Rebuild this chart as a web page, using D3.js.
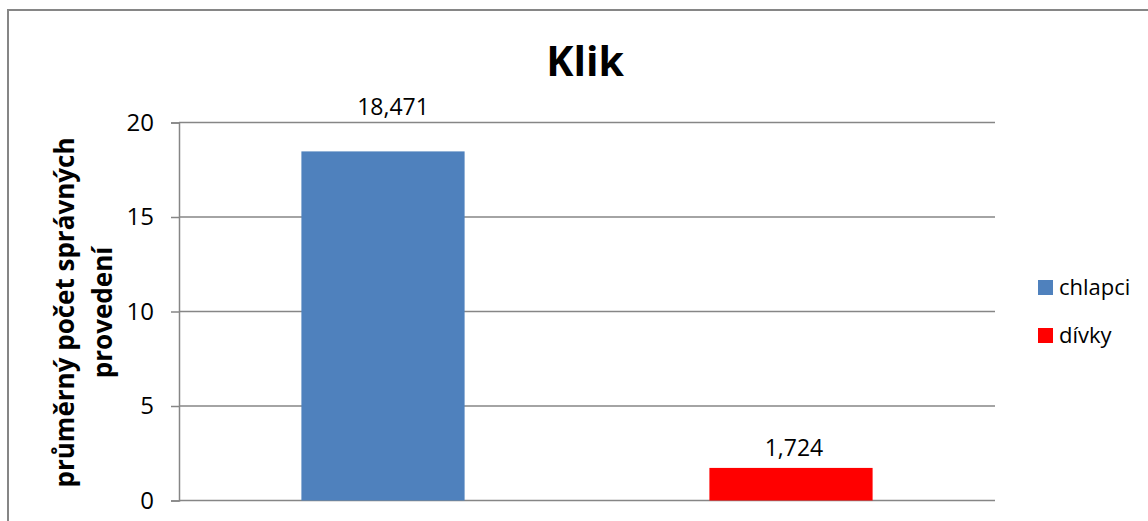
<!DOCTYPE html>
<html>
<head>
<meta charset="utf-8">
<script src="https://cdn.jsdelivr.net/npm/d3@7"></script>
<style>
    body { margin: 0; background: #fff; }
    text { font-family: 'Open Sans', sans-serif; fill: #000; }
</style>
</head>
<body>
<div class="chart"></div>
<script>
// data
const categories = ['chlapci', 'dívky'];
const values = [18.471, 1.724];
const valueLabels = ['18,471', '1,724'];
const barColors = ['#4f81bd', '#ff0000'];
const yTicks = [0, 5, 10, 15, 20];
const titleText = 'Klik';
const yTitleLines = ['průměrný počet správných', 'provedení'];

const width = 1148, height = 521;
let padding = {'left': 179, 'right': 1148 - 995, 'top': 122.5, 'bottom': 521 - 500.5};
const gridColor = '#868686';

let svg = d3.select('.chart')
    .append('svg')
    .attr('width', width)
    .attr('height', height);

// outer frame (only top and left edges visible)
svg.append('rect')
    .attr('x', 8)
    .attr('y', 10)
    .attr('width', 1200)
    .attr('height', 600)
    .attr('fill', 'none')
    .attr('stroke', gridColor)
    .attr('stroke-width', 2);

let x = d3.scaleBand()
    .domain(categories)
    .range([padding.left, width - padding.right])
    .paddingInner(0.6)
    .paddingOuter(0.3);

let y = d3.scaleLinear()
    .domain([0, 20])
    .range([height - padding.bottom, padding.top]);

// gridlines
svg.append('g')
    .selectAll('line')
    .data(yTicks)
    .enter().append('line')
    .attr('x1', padding.left)
    .attr('x2', width - padding.right)
    .attr('y1', d => y(d))
    .attr('y2', d => y(d))
    .attr('stroke', gridColor)
    .attr('stroke-width', 1.5);

// y axis
let axis_y = d3.axisLeft()
    .scale(y)
    .tickValues(yTicks)
    .tickSize(8)
    .tickPadding(17)
    .tickFormat(d => d);

let yAxis = svg.append('g')
    .attr('transform', `translate(${padding.left}, 0)`)
    .call(axis_y);
yAxis.select('.domain').attr('stroke', gridColor).attr('stroke-width', 1.5);
yAxis.selectAll('.tick line').attr('stroke', gridColor).attr('stroke-width', 1.5);
yAxis.selectAll('.tick text')
    .attr('font-family', "'Open Sans', sans-serif")
    .attr('font-size', '24px')
    .attr('fill', '#000');

// bars
svg.append('g')
    .selectAll('rect')
    .data(values)
    .enter().append('rect')
    .attr('x', (d, i) => x(categories[i]))
    .attr('y', d => y(d))
    .attr('width', x.bandwidth())
    .attr('height', d => y(0) - y(d))
    .attr('fill', (d, i) => barColors[i]);

// value labels
const labelLift = [36, 12];
const labelShift = [10, 3];
svg.append('g')
    .selectAll('text')
    .data(values)
    .enter().append('text')
    .attr('x', (d, i) => x(categories[i]) + x.bandwidth() / 2 + labelShift[i])
    .attr('y', (d, i) => y(d) - labelLift[i])
    .attr('text-anchor', 'middle')
    .attr('font-size', '23px')
    .text((d, i) => valueLabels[i]);

// title
svg.append('text')
    .attr('x', 585)
    .attr('y', 76)
    .attr('text-anchor', 'middle')
    .attr('font-size', '41px')
    .attr('font-weight', 'bold')
    .text(titleText);

// y axis title
let yTitle = svg.append('text')
    .attr('transform', `translate(74, ${(y(0) + y(20)) / 2 + 1}) rotate(-90)`)
    .attr('text-anchor', 'middle')
    .attr('font-size', '26px')
    .attr('font-weight', 'bold');
yTitle.selectAll('tspan')
    .data(yTitleLines)
    .enter().append('tspan')
    .attr('x', 0)
    .attr('dy', (d, i) => i === 0 ? 0 : 38)
    .text(d => d);

// legend
let legend = svg.append('g')
    .selectAll('g')
    .data(categories)
    .enter().append('g')
    .attr('transform', (d, i) => `translate(1038, ${280 + i * 48})`);
legend.append('rect')
    .attr('width', 15)
    .attr('height', 15)
    .attr('fill', (d, i) => barColors[i]);
legend.append('text')
    .attr('x', 21)
    .attr('y', 15)
    .attr('font-size', '22px')
    .text(d => d);
</script>
</body>
</html>
